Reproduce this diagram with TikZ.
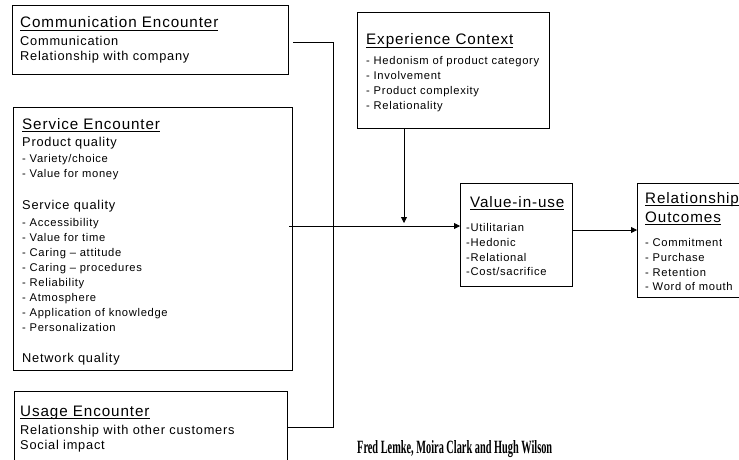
\documentclass[tikz,border=0pt]{standalone}
\usepackage{graphicx}
\usepackage{fontspec}
\setmainfont{Liberation Sans}
\newfontfamily\boxfont[LetterSpace=6]{Liberation Sans}
\newfontfamily\creditfont{Liberation Serif}
\usetikzlibrary{arrows.meta,calc}

% underlined heading text
\newcommand\ulhead[1]{\setbox0=\hbox{#1}\rlap{\rule[-3pt]{\wd0}{0.6pt}}\box0}

\begin{document}
\begin{tikzpicture}[x=1pt,y=-1pt,
  box/.style={draw, line width=0.8pt, rectangle, inner sep=0pt, outer sep=0pt, anchor=north west},
  head/.style={anchor=base west, inner sep=0pt, font=\boxfont\fontsize{15.2}{18}\selectfont},
  body/.style={anchor=base west, inner sep=0pt, font=\boxfont\fontsize{12.8}{15}\selectfont},
  item/.style={anchor=base west, inner sep=0pt, font=\boxfont\fontsize{11.2}{14}\selectfont},
  link/.style={line width=0.8pt},
  arr/.style={link, -{Triangle[length=6pt,width=6pt]}}]
\useasboundingbox (0,0) rectangle (739,460);

% boxes
\node (comm)  [box, minimum width=276pt, minimum height=69pt]  at (12,5) {};
\node (svc)   [box, minimum width=279pt, minimum height=263pt] at (13,107) {};
\node (usage) [box, minimum width=273pt, minimum height=90pt]  at (14,391) {};
\node (exp)   [box, minimum width=192pt, minimum height=116pt] at (357,12) {};
\node (val)   [box, minimum width=112pt, minimum height=103pt] at (460,183) {};
\node (rel)   [box, minimum width=130pt, minimum height=114pt] at (637,183) {};

% communication encounter
\node (comm-h)  [head] at (20,28) {\ulhead{Communication Encounter}};
\node (comm-1)  [body] at (20,46) {Communication};
\node (comm-2)  [body] at (20,61) {Relationship with company};

% service encounter
\node (svc-h)  [head] at (22,129) {\ulhead{Service Encounter}};
\node (svc-p)  [body] at (22,146) {Product quality};
\node (svc-p1) [item] at (22,162) {- Variety/choice};
\node (svc-p2) [item] at (22,177) {- Value for money};
\node (svc-s)  [body] at (22,209) {Service quality};
\foreach \t [count=\i] in {Accessibility, Value for time, Caring \textendash{} attitude,
    Caring \textendash{} procedures, Reliability, Atmosphere, Application of knowledge,
    Personalization}
  \node (svc-s\i) [item] at (22,{211+15*\i}) {- \t};
\node (svc-n)  [body] at (22,362) {Network quality};

% usage encounter
\node (usage-h) [head] at (20,416) {\ulhead{Usage Encounter}};
\node (usage-1) [body] at (20,434) {Relationship with other customers};
\node (usage-2) [body] at (20,449) {Social impact};

% experience context
\node (exp-h) [head] at (366,45) {\ulhead{Experience Context}};
\foreach \t [count=\i] in {Hedonism of product category, Involvement,
    Product complexity, Relationality}
  \node (exp-\i) [item] at (366,{50+15*\i}) {- \t};

% value-in-use
\node (val-h) [head] at (470,207) {\ulhead{Value-in-use}};
\node (val-1) [item] at (466,231) {-Utilitarian};
\node (val-2) [item] at (466,246) {-Hedonic};
\node (val-3) [item] at (466,261) {-Relational};
\node (val-4) [item] at (466,275) {-Cost/sacrifice};

% relationship outcomes
\node (rel-h1) [head] at (645,203) {\ulhead{Relationship}};
\node (rel-h2) [head] at (645,222) {\ulhead{Outcomes}};
\node (rel-1) [item] at (645,246) {- Commitment};
\node (rel-2) [item] at (645,261) {- Purchase};
\node (rel-3) [item] at (645,276) {- Retention};
\node (rel-4) [item] at (645,290) {- Word of mouth};

% author line
\node (credit) [anchor=base west, inner sep=0pt] at (357,453)
  {\resizebox{195pt}{13pt}{\creditfont\bfseries Fred Lemke, Moira Clark and Hugh Wilson}};

% connectors
\coordinate (jtop) at (333,42);
\coordinate (jmid) at (333,226);
\coordinate (jbot) at (333,427);
\coordinate (drop) at (404,226);
\coordinate (outr) at (600,230);

\draw[link] ($(comm.east |- jtop)+(5,0)$) -- (jtop) -- (jbot) -- (usage.east |- jbot);
\draw[arr] ($(svc.east |- jmid)+(-3,0)$) -- (val.west |- jmid);
\draw[arr] (exp.south -| drop) -- ($(drop)+(0,-3)$);
\draw[arr] (val.east |- outr) -- (rel.west |- outr);
\end{tikzpicture}
\end{document}
